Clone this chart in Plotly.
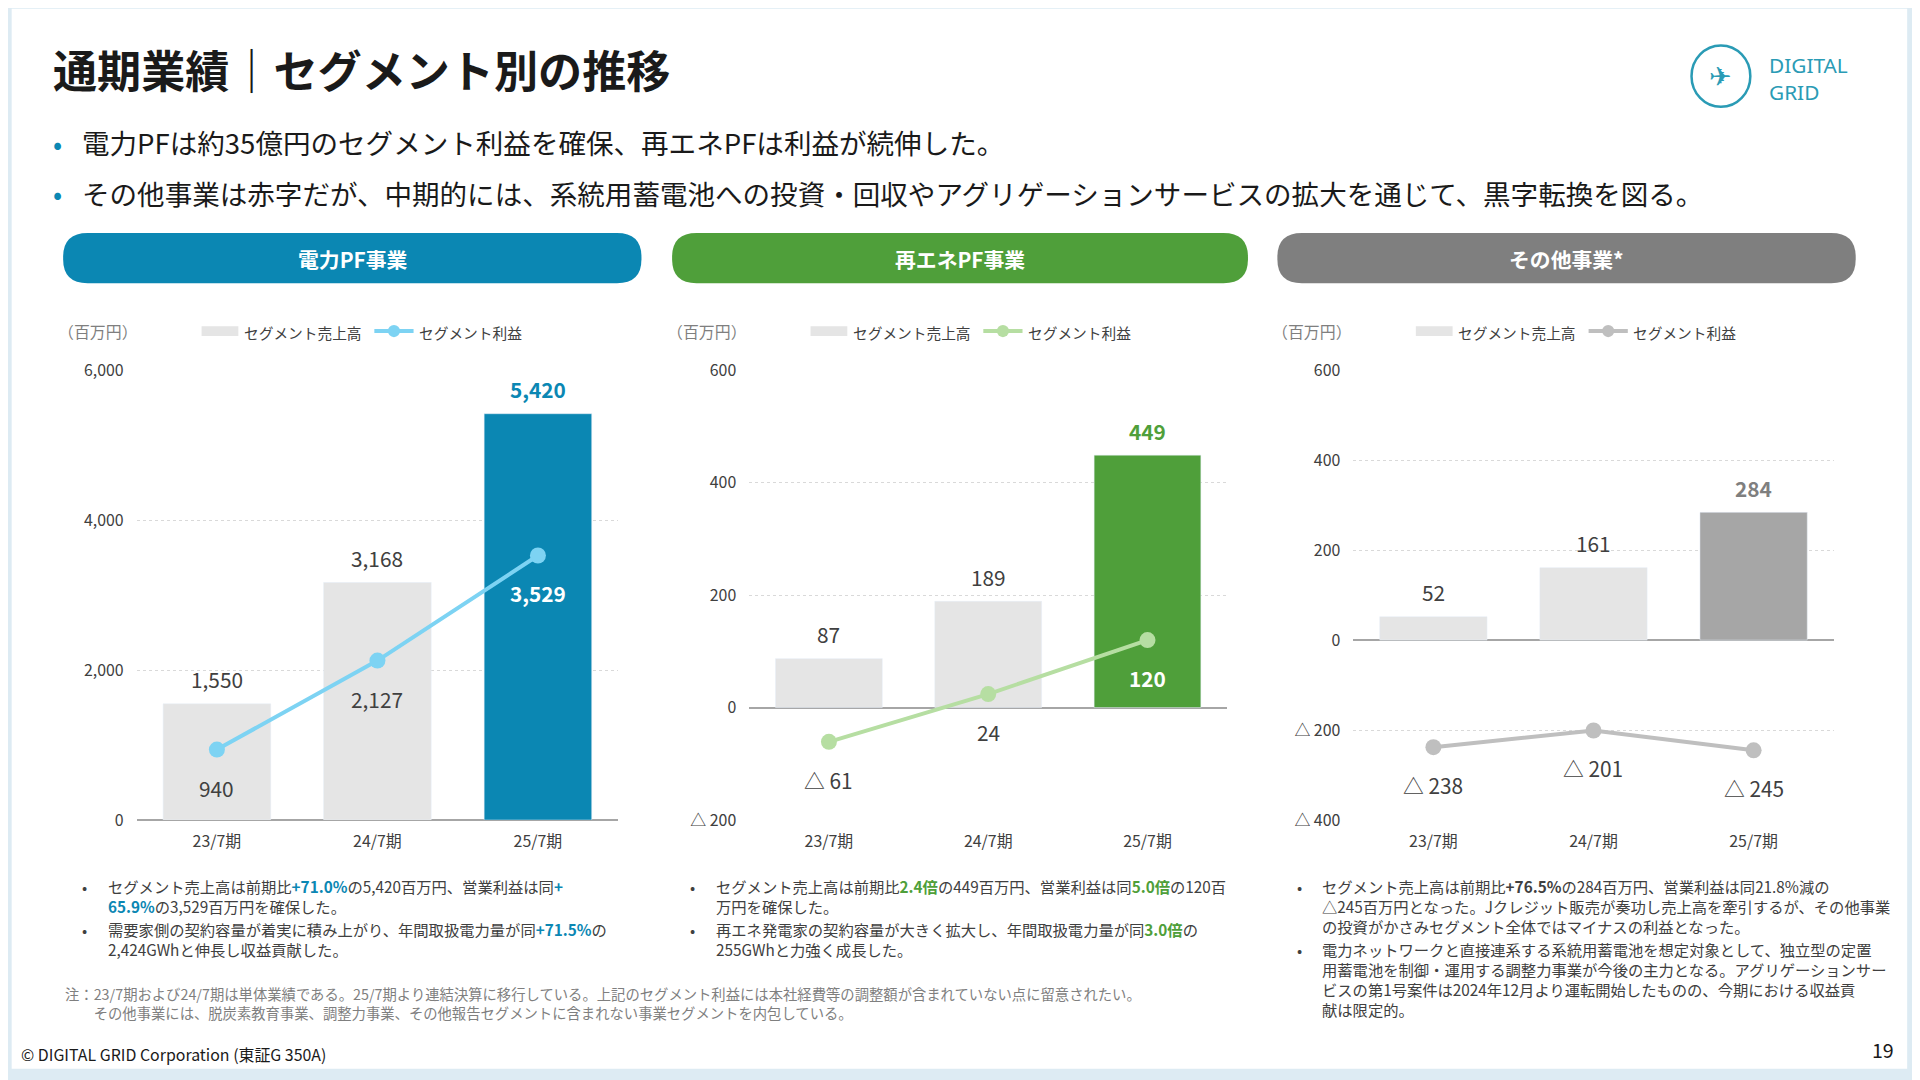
import plotly.graph_objects as go

W, H = 1920, 1080
RW, RH = 1567, 881
S = W / RW
def X(p): return (p - 7) / RW
def Y(p): return 1 - ((p - 17.2) / 0.979) / RH
def fs(p): return p * S

FONT = "Noto Sans CJK JP"

periods = ["23/7期", "24/7期", "25/7期"]
p1_sales = [1550, 3168, 5420]
p1_profit = [940, 2127, 3529]
p2_sales = [87, 189, 449]
p2_profit = [-61, 24, 120]
p3_sales = [52, 161, 284]
p3_profit = [-238, -201, -245]

p1_ticks = [0, 2000, 4000, 6000]
p1_ticktext = ["0", "2,000", "4,000", "6,000"]
p2_ticks = [-200, 0, 200, 400, 600]
p2_ticktext = ["△ 200", "0", "200", "400", "600"]
p3_ticks = [-400, -200, 0, 200, 400, 600]
p3_ticktext = ["△ 400", "△ 200", "0", "200", "400", "600"]

def fmt(v):
    return ("△ " + f"{abs(v):,}") if v < 0 else f"{v:,}"

BLUE = "#0B87B3"; LBLUE = "#7DD3F3"
GREEN = "#4F9F3A"; LGREEN = "#B6DEA2"
GRAYH = "#7F7F7F"; BARG = "#E5E5E5"; DGRAY = "#A6A6A6"; LGRAY = "#BFBFBF"
TXT = "#404040"

panels = [
    dict(sales=p1_sales, profit=p1_profit, ticks=p1_ticks, tt=p1_ticktext, rng=[0, 6000],
         x0=112, x1=505, last=BLUE, line=LBLUE, hl=BLUE, title="電力PF事業", hx=(52, 524), head=BLUE,
         inside=[False, False, True]),
    dict(sales=p2_sales, profit=p2_profit, ticks=p2_ticks, tt=p2_ticktext, rng=[-200, 600],
         x0=612, x1=1002, last=GREEN, line=LGREEN, hl=GREEN, title="再エネPF事業", hx=(549, 1019), head=GREEN,
         inside=[False, False, True]),
    dict(sales=p3_sales, profit=p3_profit, ticks=p3_ticks, tt=p3_ticktext, rng=[-400, 600],
         x0=1105, x1=1497, last=DGRAY, line=LGRAY, hl="#7F7F7F", title="その他事業*", hx=(1043, 1515), head=GRAYH,
         inside=[False, False, False]),
]

fig = go.Figure()
shapes = []
ann = []

def A(x, y, text, size, color=TXT, xanchor="center", yanchor="middle", **kw):
    d = dict(x=x, y=y, xref="paper", yref="paper", text=text, showarrow=False, xanchor=xanchor, yanchor=yanchor,
             font=dict(size=fs(size), color=color, family=kw.pop("family", FONT)))
    d.update(kw)
    ann.append(d)

shapes.append(dict(type="rect", xref="paper", yref="paper", x0=X(10), x1=X(1557), y0=Y(873), y1=Y(8),
                   fillcolor="white", line=dict(width=0), layer="below"))

def pill(x0, x1, y0, y1, color):
    rx = 20 / RW; ry = 20 / RH
    a, b = X(x0), X(x1); t, bt = Y(y0), Y(y1)
    path = (f"M{a+rx},{t} L{b-rx},{t} Q{b},{t} {b},{t-ry} L{b},{bt+ry} Q{b},{bt} {b-rx},{bt} "
            f"L{a+rx},{bt} Q{a},{bt} {a},{bt+ry} L{a},{t-ry} Q{a},{t} {a+rx},{t} Z")
    return dict(type="path", xref="paper", yref="paper", path=path, fillcolor=color, line=dict(width=0))

for i, p in enumerate(panels):
    n = "" if i == 0 else str(i + 1)
    xa, ya = "x" + n, "y" + n
    fig.add_trace(go.Bar(x=periods, y=p["sales"], marker_color=[BARG, BARG, p["last"]], width=0.67,
                         xaxis=xa, yaxis=ya, showlegend=False))
    fig.add_trace(go.Scatter(x=periods, y=p["profit"], mode="lines+markers", line=dict(color=p["line"], width=4),
                             marker=dict(size=16, color=p["line"]), xaxis=xa, yaxis=ya, showlegend=False))
    fig.update_layout(**{
        "xaxis" + n: dict(domain=[X(p["x0"]), X(p["x1"])], anchor=ya, range=[-0.5, 2.5], showgrid=False,
                          tickfont=dict(size=fs(13), color=TXT), ticks="", showline=False, ticklabelstandoff=10),
        "yaxis" + n: dict(domain=[Y(670), Y(303)], anchor=xa, range=p["rng"], tickvals=p["ticks"], ticktext=p["tt"],
                          showgrid=True, gridcolor="#D9D9D9", griddash="dot", gridwidth=1,
                          zeroline=True, zerolinecolor="#A6A6A6", zerolinewidth=2,
                          tickfont=dict(size=fs(13), color=TXT), ticks="", ticklabelstandoff=12),
    })
    for j, v in enumerate(p["sales"]):
        last = j == 2
        col = p["hl"] if last else TXT
        ann.append(dict(x=periods[j], y=v, xref=xa, yref=ya, text=(f"<b>{fmt(v)}</b>" if last else fmt(v)),
                        showarrow=False, yanchor="middle", yshift=fs(20), font=dict(size=fs(17), color=col, family=FONT)))
    for j, v in enumerate(p["profit"]):
        inside = p["inside"][j]
        ann.append(dict(x=periods[j], y=v, xref=xa, yref=ya, text=(f"<b>{fmt(v)}</b>" if inside else fmt(v)),
                        showarrow=False, yanchor="middle", yshift=-fs(31),
                        font=dict(size=fs(17), color=("white" if inside else TXT), family=FONT)))
    shapes.append(pill(p["hx"][0], p["hx"][1], 191, 232, p["head"]))
    A(X((p["hx"][0] + p["hx"][1]) / 2), Y(212), f"<b>{p['title']}</b>", 17, "white")
    off = p["hx"][0] - 52
    A(X(46 + off), Y(271), "（百万円）", 13, "#7F7F7F", xanchor="left")
    shapes.append(dict(type="rect", xref="paper", yref="paper", x0=X(165 + off), x1=X(195 + off), y0=Y(275), y1=Y(267),
                       fillcolor=BARG, line=dict(width=0)))
    A(X(198 + off), Y(272), "セグメント売上高", 12, xanchor="left")
    shapes.append(dict(type="line", xref="paper", yref="paper", x0=X(306 + off), x1=X(338 + off), y0=Y(271), y1=Y(271),
                       line=dict(color=p["line"], width=4)))
    shapes.append(dict(type="circle", xref="paper", yref="paper", x0=X(317 + off), x1=X(327 + off), y0=Y(276), y1=Y(266),
                       fillcolor=p["line"], line=dict(width=0)))
    A(X(341 + off), Y(272), "セグメント利益", 12, xanchor="left")

A(X(42), Y(57), "<b>通期業績｜セグメント別の推移</b>", 36, "#1A1A1A", xanchor="left")
for yy, t in [(117, "電力PFは約35億円のセグメント利益を確保、再エネPFは利益が続伸した。"),
              (158, "その他事業は赤字だが、中期的には、系統用蓄電池への投資・回収やアグリゲーションサービスの拡大を通じて、黒字転換を図る。")]:
    A(X(42), Y(yy), "•", 22, "#0B87B3", xanchor="left")
    A(X(66), Y(yy), t, 22.5, "#1A1A1A", xanchor="left")

shapes.append(dict(type="circle", xref="paper", yref="paper", x0=X(1381), x1=X(1429), y0=Y(88), y1=Y(38),
                   line=dict(color="#2A9BB5", width=2.5)))
A(X(1405), Y(63), "✈", 22, "#2A9BB5", family="DejaVu Sans")
A(X(1443), Y(65), "DIGITAL<br>GRID", 17, "#2A9BB5", xanchor="left", align="left", family="Noto Sans")

def bl(x, y, txt):
    A(X(x - 21), Y(y), "•", 12.5, xanchor="left", yanchor="top")
    A(X(x), Y(y), txt, 12.5, xanchor="left", yanchor="top", align="left")

def c(t, col): return f"<span style='color:{col}'><b>{t}</b></span>"
bl(87, 713, "セグメント売上高は前期比" + c("+71.0%", BLUE) + "の5,420百万円、営業利益は同" + c("+", BLUE) + "<br>" + c("65.9%", BLUE) + "の3,529百万円を確保した。")
bl(87, 748, "需要家側の契約容量が着実に積み上がり、年間取扱電力量が同" + c("+71.5%", BLUE) + "の<br>2,424GWhと伸長し収益貢献した。")
bl(583, 713, "セグメント売上高は前期比" + c("2.4倍", GREEN) + "の449百万円、営業利益は同" + c("5.0倍", GREEN) + "の120百<br>万円を確保した。")
bl(583, 748, "再エネ発電家の契約容量が大きく拡大し、年間取扱電力量が同" + c("3.0倍", GREEN) + "の<br>255GWhと力強く成長した。")
bl(1078, 713, "セグメント売上高は前期比" + c("+76.5%", "#404040") + "の284百万円、営業利益は同21.8%減の<br>△245百万円となった。Jクレジット販売が奏功し売上高を牽引するが、その他事業<br>の投資がかさみセグメント全体ではマイナスの利益となった。")
bl(1078, 765, "電力ネットワークと直接連系する系統用蓄電池を想定対象として、独立型の定置<br>用蓄電池を制御・運用する調整力事業が今後の主力となる。アグリゲーションサー<br>ビスの第1号案件は2024年12月より運転開始したものの、今期における収益貢<br>献は限定的。")

A(X(52), Y(801), "注：23/7期および24/7期は単体業績である。25/7期より連結決算に移行している。上記のセグメント利益には本社経費等の調整額が含まれていない点に留意されたい。<br>　　その他事業には、脱炭素教育事業、調整力事業、その他報告セグメントに含まれない事業セグメントを内包している。",
  11.7, "#7F7F7F", xanchor="left", yanchor="top", align="left")
A(X(16), Y(861), "© DIGITAL GRID Corporation (東証G 350A)", 13, "#1A1A1A", xanchor="left")
A(X(1548), Y(857), "19", 16, "#1A1A1A", xanchor="right")

fig.update_layout(width=W, height=H, margin=dict(l=0, r=0, t=0, b=0), paper_bgcolor="#DDEBF3",
                  plot_bgcolor="rgba(0,0,0,0)", shapes=shapes, annotations=ann, bargap=0.3,
                  font=dict(family=FONT, color=TXT))
fig.write_html("out.html", config={"displayModeBar": False})
